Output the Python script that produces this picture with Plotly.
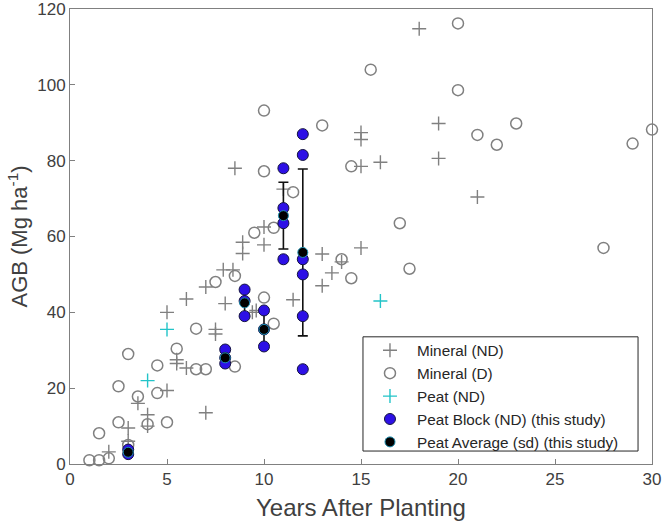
import plotly.graph_objects as go

# Mineral (ND)
min_nd_x = [2, 3, 3, 3.5, 4, 4, 5, 5, 5.5, 5.5, 6, 6, 7, 7, 7.5, 7.5, 7.9, 8, 8.5, 8.9, 8.9, 8.4,
            9.4, 9.6, 10, 10, 11, 11.5, 13, 13, 13.5, 14, 15, 15, 15, 15, 16, 18, 19, 19, 21]
min_nd_y = [3.2, 9.5, 6, 16, 13, 10, 19.4, 40, 27.5, 26.5, 25.3, 43.5, 13.5, 46.7, 35.5, 34.3, 51.2, 42.3, 78, 58.5, 55.5, 51.2,
            40, 40.5, 57.8, 62.5, 72.5, 43.3, 55.4, 47, 50.4, 53.3, 57, 78.5, 87.4, 85.6, 79.6, 114.8, 89.8, 80.6, 70.4]

# Mineral (D)
min_d_x = [1, 1.5, 2, 1.5, 2.5, 2.5, 3, 3, 3.5, 4, 4.5, 4.5, 5, 5.5, 6.5, 6.5, 7, 7.5, 8.5, 8.5,
           9.5, 10, 10, 10, 10.5, 10.5, 11.5, 13, 14, 14.5, 14.5, 15.5, 17, 17.5, 20, 20, 21, 22, 23, 27.5, 29, 30]
min_d_y = [1, 1, 1.5, 8.1, 11, 20.5, 29, 5, 17.8, 10.5, 18.7, 26, 11, 30.4, 35.7, 25, 25, 48, 49.6, 25.7,
           61, 93.2, 77.2, 43.9, 62.3, 37, 71.7, 89.3, 54, 78.5, 49, 104, 63.5, 51.5, 116.2, 98.6, 86.8, 84.2, 89.8, 57, 84.5, 88.2]

# Peat (ND)
peat_nd_x = [4, 5, 16]
peat_nd_y = [22, 35.5, 43]

# Peat Block (ND) (this study)
block_x = [3, 3, 8, 8, 8, 9, 9, 9, 10, 10, 10, 11, 11, 11, 11, 12, 12, 12, 12, 12, 12]
block_y = [3.8, 2.6, 30.2, 28, 26.5, 46, 43, 39, 40.5, 35.5, 31, 78, 67.5, 63.5, 54, 87, 81.5, 54, 50, 39, 25]

# Peat Average (sd) (this study)
avg_x = [3, 8, 9, 10, 11, 12]
avg_y = [3.1, 28, 42.5, 35.5, 65.5, 55.8]
avg_sd = [0.6, 1.5, 3, 4.3, 8.8, 22]

FONT = "Liberation Sans, Arial, sans-serif"
GRAY = "#808080"
TXT = "#404040"

fig = go.Figure()
fig.add_trace(go.Scatter(
    x=min_nd_x, y=min_nd_y, mode="markers", name="Mineral (ND)",
    marker=dict(symbol="cross-thin", size=10, line=dict(color=GRAY, width=1.4)),
    cliponaxis=False))
fig.add_trace(go.Scatter(
    x=min_d_x, y=min_d_y, mode="markers", name="Mineral (D)",
    marker=dict(symbol="circle-open", size=11, color=GRAY, line=dict(color=GRAY, width=1.5)),
    cliponaxis=False))
fig.add_trace(go.Scatter(
    x=peat_nd_x, y=peat_nd_y, mode="markers", name="Peat (ND)",
    marker=dict(symbol="cross-thin", size=10, line=dict(color="#22c4c8", width=1.4)),
    cliponaxis=False))
fig.add_trace(go.Scatter(
    x=avg_x, y=avg_y, mode="markers", showlegend=False, hoverinfo="skip",
    marker=dict(size=1, color="rgba(0,0,0,0)"),
    error_y=dict(type="data", array=avg_sd, visible=True, color="#111111", thickness=1.6, width=5),
    cliponaxis=False))
fig.add_trace(go.Scatter(
    x=block_x, y=block_y, mode="markers", name="Peat Block (ND) (this study)",
    marker=dict(symbol="circle", size=11, color="#2d10e6", line=dict(color="#141440", width=1)),
    cliponaxis=False))
fig.add_trace(go.Scatter(
    x=avg_x, y=avg_y, mode="markers", name="Peat Average (sd) (this study)",
    marker=dict(symbol="circle", size=10, color="#000000", line=dict(color="#1e8fb0", width=1)),
    cliponaxis=False))

axis_common = dict(
    showline=True, linecolor=GRAY, linewidth=1, mirror=True,
    ticks="inside", ticklen=5, tickcolor=GRAY, tickwidth=1,
    showgrid=False, zeroline=False, automargin=False,
    ticklabeloverflow="allow",
)

# legend frame (plot-area fractions)
fig.add_shape(type="rect", xref="paper", yref="paper",
              x0=0.5034, x1=0.976, y0=0.0285, y1=0.2795,
              line=dict(color="#262626", width=1), fillcolor="white", layer="above")

fig.update_layout(
    width=663, height=523,
    margin=dict(l=70, r=11, t=9, b=59),
    paper_bgcolor="white", plot_bgcolor="white",
    font=dict(family=FONT, color=TXT),
    xaxis=dict(range=[0, 30], dtick=5, **axis_common,
               tickfont=dict(family=FONT, size=17, color=TXT),
               title=dict(text="Years After Planting", font=dict(family=FONT, size=24, color=TXT), standoff=10)),
    yaxis=dict(range=[0, 120], dtick=20, **axis_common,
               tickfont=dict(family=FONT, size=17, color=TXT),
               title=dict(text="AGB (Mg ha<sup>-1</sup>)", font=dict(family=FONT, size=22, color=TXT), standoff=3)),
    legend=dict(x=0.5034, y=0.2860, xanchor="left", yanchor="top",
                bgcolor="rgba(0,0,0,0)", borderwidth=0,
                font=dict(family=FONT, size=15.3, color="#262626"),
                tracegroupgap=0, itemwidth=44),
    showlegend=True,
)

fig.write_html("out.html", config={"displayModeBar": False},
               post_script="document.body.style.margin='0';")
